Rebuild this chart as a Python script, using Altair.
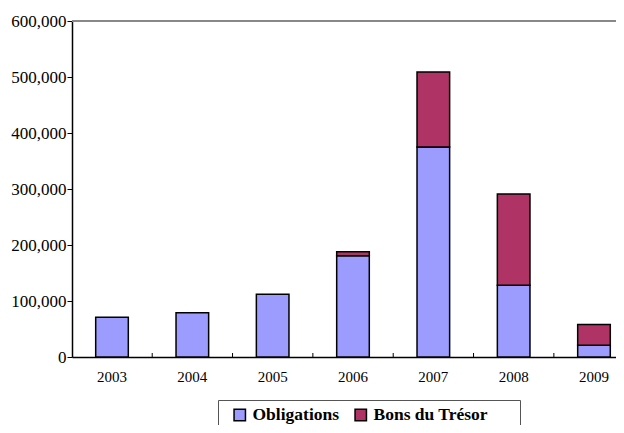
import altair as alt
import pandas as pd

years = ["2003", "2004", "2005", "2006", "2007", "2008", "2009"]
obligations = [71000, 79000, 112000, 181000, 375000, 128000, 21000]
bons = [0, 0, 0, 7000, 134000, 163000, 37000]
series = ["Obligations", "Bons du Trésor"]
colors = ["#9C9CFF", "#B03366"]
y_ticks = [0, 100000, 200000, 300000, 400000, 500000, 600000]

rows = []
for y, o, b in zip(years, obligations, bons):
    if o > 0:
        rows.append({"year": y, "series": series[0], "value": o, "ord": 0})
    if b > 0:
        rows.append({"year": y, "series": series[1], "value": b, "ord": 1})
df = pd.DataFrame(rows)
tick_df = pd.DataFrame({"year": years})

FONT = "Liberation Serif"
W, H = 544, 336

xscale = alt.Scale(domain=years, paddingInner=0.594, paddingOuter=0.183, align=0.806)
yscale = alt.Scale(domain=[0, 600000], nice=False)

PAD = "\u2800" * 2

bars = alt.Chart(df).mark_bar(stroke="black", strokeWidth=1.5).encode(
    x=alt.X("year:N", scale=xscale, sort=years,
            axis=alt.Axis(title=None, labelAngle=0, ticks=False, labelFont=FONT,
                          labelFontSize=15, labelColor="black", labelPadding=12,
                          domainColor="black", domainWidth=1.5)),
    y=alt.Y("value:Q", stack="zero", scale=yscale,
            axis=alt.Axis(title=None, values=y_ticks, format=",.0f", grid=False,
                          labelFont=FONT, labelFontSize=17, labelColor="black",
                          tickColor="black", tickSize=5, labelPadding=1,
                          domainColor="black", domainWidth=1.5)),
    color=alt.Color("series:N", scale=alt.Scale(domain=series, range=colors),
                    legend=alt.Legend(title=None, orient="none", legendX=146, legendY=379,
                                      direction="horizontal", symbolType="square",
                                      symbolSize=130, symbolStrokeColor="black",
                                      symbolStrokeWidth=1.5, symbolOffset=7,
                                      labelFont=FONT, labelLimit=400,
                                      labelFontSize=17.5, labelFontWeight="bold",
                                      labelColor="black", labelOffset=4,
                                      columnPadding=5, strokeColor="#555555",
                                      fillColor="white", padding=6,
                                      labelExpr="datum.label == 'Bons du Trésor' ? datum.label + '" + PAD + "' : datum.label")),
    order=alt.Order("ord:Q"),
)

ticks = alt.Chart(tick_df).mark_rule(color="black", strokeWidth=1, xOffset=23.9).encode(
    x=alt.X("year:N", scale=xscale, sort=years, bandPosition=1),
    y=alt.value(H - 4),
    y2=alt.value(H),
)

top_line = alt.Chart(tick_df).mark_rule(color="#888888", strokeWidth=1.5).encode(
    x=alt.value(0),
    x2=alt.value(W + 10),
    y=alt.datum(600000, scale=yscale),
)

chart = alt.layer(top_line, bars, ticks).properties(
    width=W, height=H,
    autosize=alt.AutoSizeParams(type="none"),
    padding={"left": 64, "top": 13, "right": 0, "bottom": 68},
).configure_view(stroke=None)

chart.save("out.html", embed_options={"renderer": "svg", "actions": False})
